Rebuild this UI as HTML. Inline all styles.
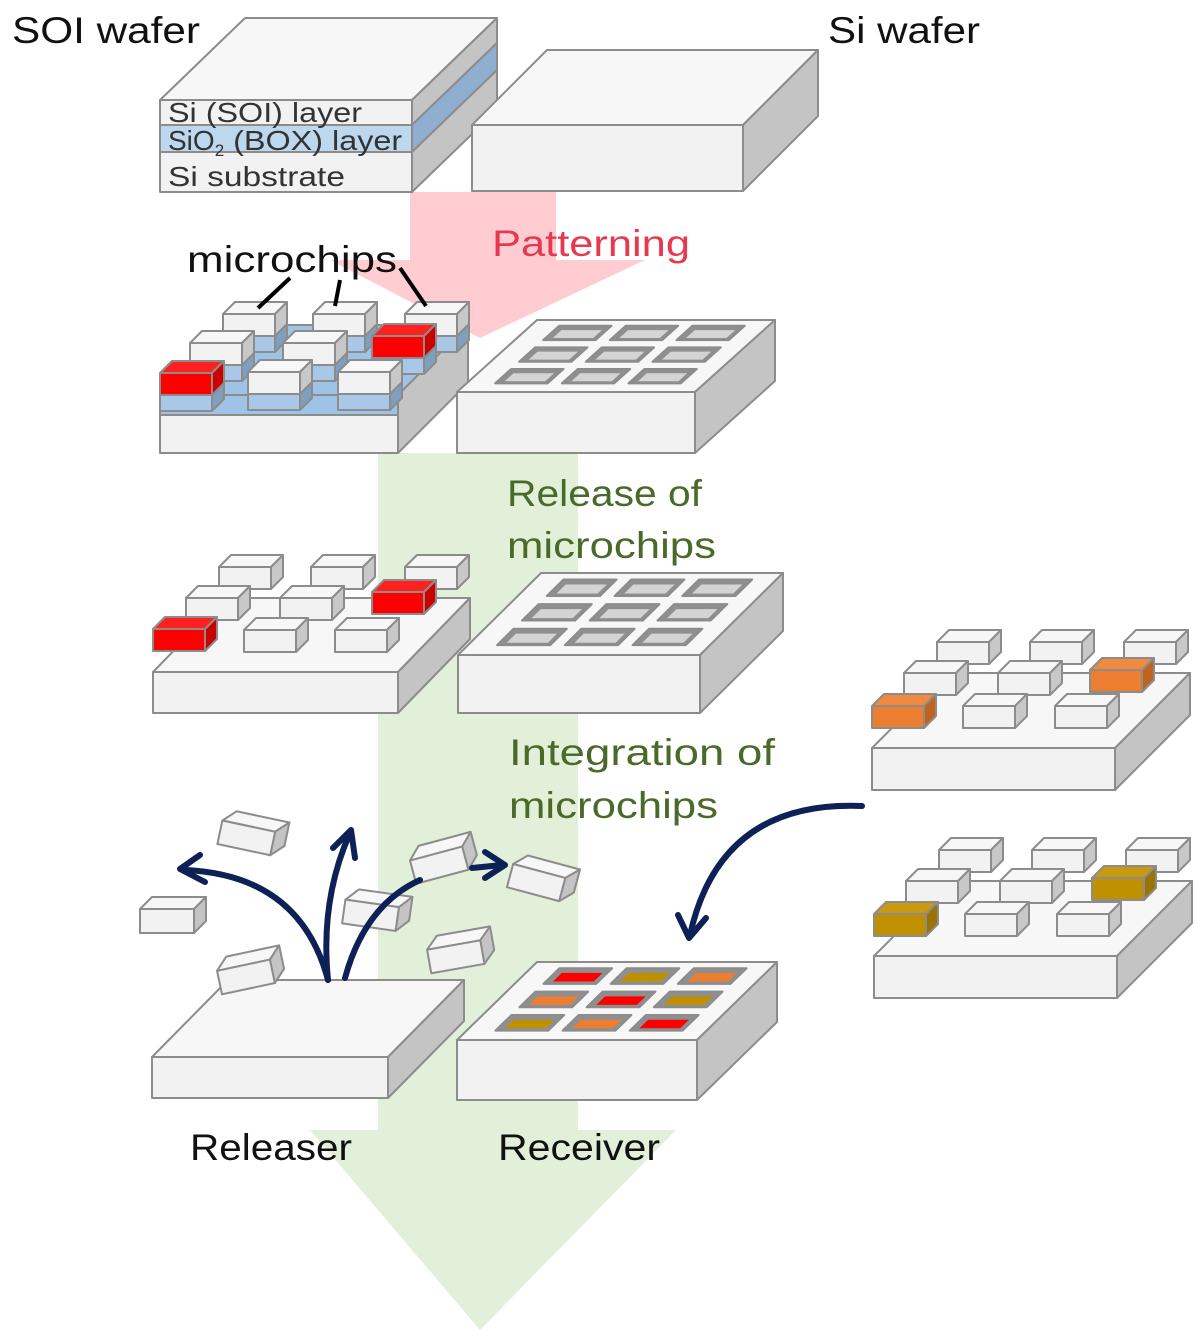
<!DOCTYPE html>
<html><head><meta charset="utf-8"><style>
body{margin:0;background:#fff}
svg{display:block}
text{font-family:"Liberation Sans","DejaVu Sans",sans-serif}
</style></head><body>
<svg id="s" width="1202" height="1342" viewBox="0 0 1202 1342" xmlns="http://www.w3.org/2000/svg">
<polygon points="410,192 556,192 556,260 645,260 480,338 330,260 410,260" fill="#ffccd2"/>
<polygon points="378,453 578,453 578,1130 676,1130 480,1330 310,1130 378,1130" fill="#e2efd9"/>
<g id="g"></g>
<g font-size="37" lengthAdjust="spacingAndGlyphs">
<text x="12" y="43" fill="#111" textLength="188" lengthAdjust="spacingAndGlyphs">SOI wafer</text>
<text x="828" y="43" fill="#111" textLength="152" lengthAdjust="spacingAndGlyphs">Si wafer</text>
<text x="492" y="256" fill="#e8384f" textLength="198" lengthAdjust="spacingAndGlyphs">Patterning</text>
<text x="187" y="272" fill="#111" textLength="210" lengthAdjust="spacingAndGlyphs">microchips</text>
<text x="507" y="506" fill="#4a6a2a" textLength="195" lengthAdjust="spacingAndGlyphs">Release of</text>
<text x="507" y="558" fill="#4a6a2a" textLength="209" lengthAdjust="spacingAndGlyphs">microchips</text>
<text x="509" y="765" fill="#4a6a2a" textLength="266" lengthAdjust="spacingAndGlyphs">Integration of</text>
<text x="509" y="818" fill="#4a6a2a" textLength="209" lengthAdjust="spacingAndGlyphs">microchips</text>
<text x="190" y="1160" fill="#111" textLength="162" lengthAdjust="spacingAndGlyphs">Releaser</text>
<text x="498" y="1160" fill="#111" textLength="162" lengthAdjust="spacingAndGlyphs">Receiver</text>
</g>
</svg>
<script>
var g=document.getElementById('g'),out='';
var ST='stroke="#8c8c8c" stroke-width="2" stroke-linejoin="round"';
function P(pts,f){return '<polygon points="'+pts.map(p=>p.join(',')).join(' ')+'" fill="'+f+'" '+ST+'/>';}
function box(x,y,w,h,dx,dy,ft,tp,sd){
 var s='';
 s+=P([[x,y],[x+dx,y-dy],[x+w+dx,y-dy],[x+w,y]],tp||'#f7f7f7');
 s+=P([[x+w,y],[x+w+dx,y-dy],[x+w+dx,y+h-dy],[x+w,y+h]],sd||'#c4c4c4');
 s+=P([[x,y],[x+w,y],[x+w,y+h],[x,y+h]],ft||'#f2f2f2');
 return s;}
function chip(x,y,c){var f='#f2f2f2',t='#f7f7f7',sd='#c8c8c8';
 if(c=='r'){f='#ff0000';t='#ff2020';sd='#cc0000';}
 if(c=='o'){f='#ed7d31';t='#f08a40';sd='#c0631f';}
 if(c=='y'){f='#bf9000';t='#c99a10';sd='#9a7400';}
 return box(x,y,52,22,12,12,f,t,sd);}
function fly(cx,cy,r){return '<g transform="rotate('+r+' '+cx+' '+cy+')">'+box(cx-32,cy-8,54,24,12,12)+'</g>';}
function holes(x,y,w,dx,dy,cols){
 var s='';
 function pt(u,v){return [x+u*w+v*dx, y-v*dy];}
 for(var i=0;i<3;i++)for(var j=0;j<3;j++){
  var u0=0.12+j*0.28,u1=u0+0.22,v0=0.12+i*0.3,v1=v0+0.2;
  s+=P([pt(u0,v0),pt(u0,v1),pt(u1,v1),pt(u1,v0)],'#8f8f8f');
  var c=cols?cols[i*3+j]:'#d4d4d4';
  s+='<polygon points="'+[pt(u0+0.03,v0+0.03),pt(u0+0.03,v1-0.06),pt(u1-0.02,v1-0.06),pt(u1-0.02,v0+0.03)].map(p=>p.join(',')).join(' ')+'" fill="'+c+'"/>';
 }
 return s;}
out+=P([[160,100],[245,18],[497,18],[412,100]],'#f7f7f7');
out+=P([[412,100],[497,18],[497,43],[412,125]],'#c4c4c4');
out+=P([[412,125],[497,43],[497,70],[412,152]],'#8faed0');
out+=P([[412,152],[497,70],[497,110],[412,192]],'#c4c4c4');
out+=P([[160,100],[412,100],[412,125],[160,125]],'#f2f2f2');
out+=P([[160,125],[412,125],[412,152],[160,152]],'#bdd7ee');
out+=P([[160,152],[412,152],[412,192],[160,192]],'#f2f2f2');
out+='<g font-size="28" fill="#333"><text x="168" y="122" textLength="194" lengthAdjust="spacingAndGlyphs">Si (SOI) layer</text><text x="168" y="150">SiO<tspan font-size="17" dy="6">2</tspan><tspan dy="-6" textLength="178" lengthAdjust="spacingAndGlyphs"> (BOX) layer</tspan></text><text x="168" y="186" textLength="177" lengthAdjust="spacingAndGlyphs">Si substrate</text></g>';
out+=box(472,125,271,66,75,75);
out+=P([[160,395],[230,325],[468,325],[398,395]],'#9dc3e6');
out+=P([[398,395],[468,325],[468,383],[398,453]],'#c4c4c4');
out+=P([[160,395],[398,395],[398,415],[160,415]],'#9dc3e6');
out+=P([[160,415],[398,415],[398,453],[160,453]],'#f2f2f2');
function pchip(x,y,c){return box(x,y+22,52,16,12,12,'#a9c8e8','#a9c8e8','#7f9fbf')+chip(x,y,c);}
out+=pchip(223,314)+pchip(313,314)+pchip(405,314);
out+=pchip(190,343)+pchip(283,343)+pchip(372,336,'r');
out+=pchip(160,373,'r')+pchip(248,372)+pchip(338,372);
out+='<g stroke="#000" stroke-width="4"><line x1="258" y1="308" x2="290" y2="278"/><line x1="335" y1="306" x2="340" y2="280"/><line x1="426" y1="306" x2="400" y2="268"/></g>';
out+=box(457,392,238,61,80,72)+holes(457,392,238,80,72);
out+=box(153,672,245,41,72,74);
out+=chip(219,567)+chip(311,567)+chip(405,567)+chip(186,598)+chip(280,598)+chip(372,592,'r')+chip(153,629,'r')+chip(244,630)+chip(335,630);
out+=box(458,655,242,58,83,82)+holes(458,655,242,83,82);
function rw(ox,oy,c){var s=box(872+ox,748+oy,243,42,75,75);
 s+=chip(937+ox,642+oy)+chip(1030+ox,642+oy)+chip(1124+ox,642+oy)+chip(904+ox,673+oy)+chip(998+ox,673+oy)+chip(1090+ox,670+oy,c)+chip(872+ox,706+oy,c)+chip(963+ox,706+oy)+chip(1055+ox,706+oy);return s;}
out+=rw(0,0,'o')+rw(2,208,'y');
out+=box(152,1057,236,41,76,77);
out+=box(457,1040,240,60,80,78)+holes(457,1040,240,80,78,['#bf9000','#ed7d31','#ff0000','#ed7d31','#ff0000','#bf9000','#ff0000','#bf9000','#ed7d31']);
out+=fly(252,835,12)+fly(172,917,0)+fly(250,972,-12)+fly(376,912,8)+fly(443,860,-15)+fly(542,880,15)+fly(460,952,-10);
var A='fill="none" stroke="#0d2157" stroke-width="6" stroke-linecap="round" stroke-linejoin="round"';
out+='<path d="M328,980 Q300,875 185,870" '+A+'/><path d="M200,855 L180,869 L205,882" '+A+'/>';
out+='<path d="M328,980 Q320,900 350,833" '+A+'/><path d="M333,848 L351,830 L355,858" '+A+'/>';
out+='<path d="M345,978 Q365,905 420,880" '+A+'/><path d="M472,868 L502,865" '+A+'/><path d="M485,852 L505,865 L485,878" '+A+'/>';
out+='<path d="M862,806 Q720,800 690,935" '+A+'/><path d="M678,915 L689,938 L706,918" '+A+'/>';
g.innerHTML=out;
</script>
</body></html>
